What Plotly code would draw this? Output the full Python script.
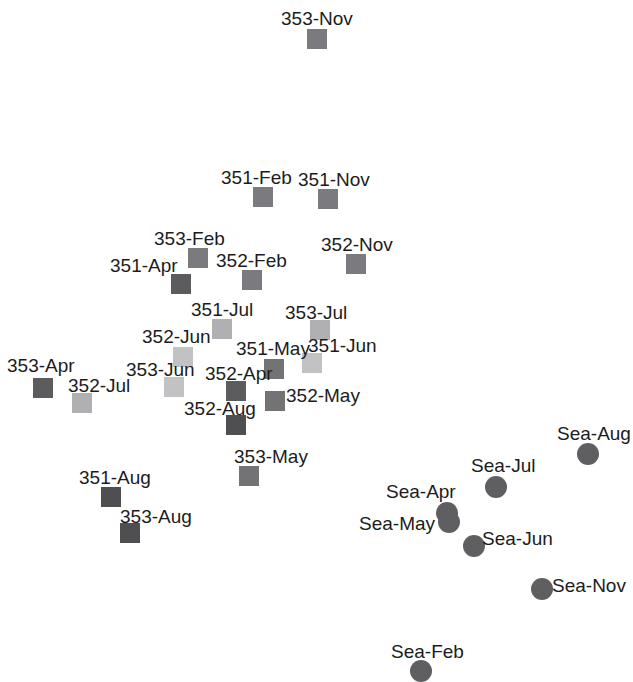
import plotly.graph_objects as go

# Sample labels and ordination coordinates
labels = ["353-Nov", "351-Feb", "351-Nov", "353-Feb", "352-Feb", "352-Nov", "351-Apr",
          "351-Jul", "353-Jul", "352-Jun", "351-Jun", "351-May", "353-Apr", "352-Jul",
          "353-Jun", "352-Apr", "352-May", "352-Aug", "353-May", "351-Aug", "353-Aug"]
x_vals = [317, 263, 328, 198, 252, 356, 181,
          222, 320, 183, 312, 274, 43, 82,
          174, 236, 275, 236, 249, 111, 130]
y_vals = [39, 197, 199, 258, 280, 264, 284,
          329, 330, 357, 363, 369, 388, 403,
          387, 391, 401, 425, 476, 497, 533]

sea_labels = ["Sea-Aug", "Sea-Jul", "Sea-Apr", "Sea-May", "Sea-Jun", "Sea-Nov", "Sea-Feb"]
sea_x = [588, 496, 447, 449, 474, 542, 421]
sea_y = [454, 487, 513, 522, 546, 589, 671]

# label offsets (pixels) relative to marker centre: style only
lab_dx = [0, -7, 6, -9, -1, 1, -37,
          0, -4, -7, 30, -1, -2, 17,
          -14, 3, 48, -16, 22, 4, 26]
lab_dy = [-21, -20, -20, -20, -20, -20, -19,
          -20, -18, -21, -18, -21, -23, -18,
          -18, -18, -6, -17, -20, -20, -17]
sea_dx = [6, 7, -26, -52, 43, 47, 6]
sea_dy = [-21, -22, -22, 1, -8, -4, -20]

month_color = {
    "Feb": "#7b7b7f", "Nov": "#7b7b7f",
    "Apr": "#5c5c5f", "May": "#737376",
    "Jun": "#c2c2c4", "Jul": "#b0b0b3",
    "Aug": "#4f4f52",
}
colors = [month_color[l.split("-")[1]] for l in labels]

fig = go.Figure()
fig.add_trace(go.Scatter(
    x=x_vals, y=y_vals, mode="markers",
    marker=dict(symbol="square", size=20, color=colors, line=dict(width=0)),
    hoverinfo="text", hovertext=labels, showlegend=False))
fig.add_trace(go.Scatter(
    x=sea_x, y=sea_y, mode="markers",
    marker=dict(symbol="circle", size=22, color="#5f5f62", line=dict(width=0)),
    hoverinfo="text", hovertext=sea_labels, showlegend=False))

font = dict(family="Liberation Sans, Arial, sans-serif", size=19, color="#1c1c1c")
for l, x, y, dx, dy in zip(labels + sea_labels, x_vals + sea_x, y_vals + sea_y,
                           lab_dx + sea_dx, lab_dy + sea_dy):
    fig.add_annotation(x=x, y=y, text=l, showarrow=False, xshift=dx, yshift=-dy,
                       xanchor="center", yanchor="middle", font=font)

fig.update_layout(
    width=633, height=682, margin=dict(l=0, r=0, t=0, b=0),
    paper_bgcolor="white", plot_bgcolor="white",
    xaxis=dict(range=[0, 633], visible=False, fixedrange=True),
    yaxis=dict(range=[682, 0], visible=False, fixedrange=True),
)
fig.write_html("out.html", config={"displayModeBar": False},
               post_script="document.body.style.margin='0';document.body.style.overflow='hidden';")
